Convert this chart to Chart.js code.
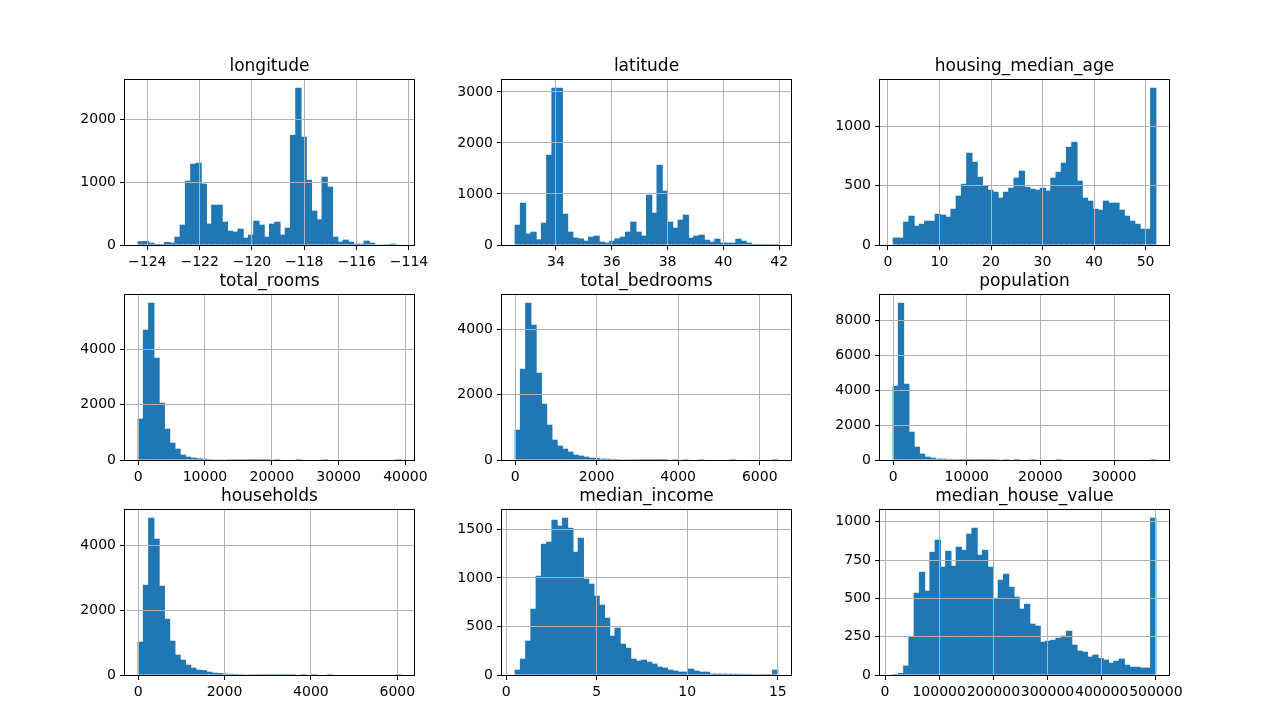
<!DOCTYPE html>
<html>
<head>
<meta charset="utf-8">
<title>housing histograms</title>
<script src="https://cdn.jsdelivr.net/npm/chart.js@4"></script>
<style>
  body { margin: 0; background: #fff; }
  #fig { position: relative; width: 1284px; height: 719px; overflow: hidden; }
  #fig canvas { position: absolute; }
</style>
</head>
<body>
<div id="fig"></div>
<script>
// counts per bin (50 equal bins between the column min and max)
const longitude = [60, 65, 37, 16, 16, 48, 37, 132, 323, 1021, 1291, 1307, 974, 339, 640, 640, 370, 228, 212, 259, 116, 164, 386, 323, 132, 339, 370, 164, 275, 1751, 2497, 1720, 1037, 545, 407, 1085, 926, 132, 53, 85, 53, 21, 21, 69, 37, 5, 5, 2, 21, 5];
const latitude = [398, 828, 222, 261, 111, 437, 1768, 3079, 3079, 613, 261, 143, 130, 85, 163, 183, 65, 46, 85, 130, 163, 261, 457, 261, 183, 985, 633, 1572, 1063, 457, 339, 496, 594, 143, 183, 202, 104, 65, 124, 46, 46, 46, 124, 85, 46, 20, 20, 20, 20, 20];
const housingMedianAge = [62, 62, 196, 246, 162, 179, 204, 204, 263, 255, 238, 305, 415, 515, 776, 700, 574, 499, 465, 448, 398, 448, 482, 566, 625, 490, 473, 465, 482, 457, 566, 616, 692, 826, 868, 541, 398, 373, 305, 297, 373, 356, 356, 297, 246, 204, 179, 137, 137, 1322];
const totalRooms = [1490, 4697, 5670, 3688, 2066, 1129, 625, 408, 192, 120, 84, 60, 48, 36, 24, 24, 12, 4, 3, 2, 2, 1, 1, 1, 1, 0, 1, 0, 0, 0, 1, 0, 0, 0, 0, 1, 0, 0, 0, 0, 0, 0, 0, 0, 0, 0, 0, 0, 0, 1];
const totalBedrooms = [929, 2796, 4816, 4143, 2673, 1724, 1082, 622, 439, 347, 255, 163, 133, 102, 71, 61, 41, 41, 31, 31, 20, 4, 3, 2, 2, 1, 1, 1, 1, 0, 1, 0, 1, 0, 0, 1, 0, 0, 0, 0, 0, 1, 0, 0, 0, 0, 0, 0, 0, 1];
const population = [4248, 8990, 4362, 1619, 762, 362, 190, 133, 76, 76, 57, 6, 4, 3, 2, 2, 1, 1, 1, 1, 0, 1, 0, 1, 0, 0, 1, 0, 0, 0, 0, 1, 0, 0, 0, 0, 0, 0, 0, 0, 0, 0, 0, 0, 0, 0, 0, 0, 0, 1];
const households = [1026, 2779, 4841, 4195, 2749, 1733, 1056, 626, 472, 318, 226, 164, 150, 103, 72, 62, 41, 36, 31, 26, 21, 5, 4, 3, 2, 2, 1, 1, 1, 1, 0, 1, 0, 1, 0, 0, 1, 0, 0, 0, 0, 0, 0, 0, 0, 0, 0, 0, 0, 1];
const medianIncome = [55, 168, 354, 683, 1023, 1353, 1373, 1600, 1538, 1620, 1517, 1270, 1414, 992, 941, 817, 724, 590, 405, 487, 323, 281, 168, 148, 158, 137, 117, 86, 76, 55, 45, 34, 35, 65, 45, 34, 34, 14, 14, 14, 13, 12, 12, 11, 11, 2, 1, 1, 1, 55];
const medianHouseValue = [7, 13, 61, 254, 537, 674, 550, 804, 883, 707, 811, 713, 837, 817, 922, 961, 785, 817, 707, 504, 622, 661, 576, 511, 433, 465, 335, 322, 217, 224, 230, 243, 257, 289, 198, 159, 152, 120, 133, 111, 100, 80, 93, 107, 67, 54, 54, 48, 48, 1026];

// min / max of each column (histogram range)
const longitudeRange = [-124.35, -114.31];
const latitudeRange = [32.54, 41.95];
const ageRange = [1, 52];
const roomsRange = [2, 39320];
const bedroomsRange = [1, 6445];
const populationRange = [3, 35682];
const householdsRange = [1, 6082];
const incomeRange = [0.4999, 15.0001];
const houseValueRange = [14999, 500001];

// tick labels
const longitudeXTicks = [-124, -122, -120, -118, -116, -114];
const latitudeXTicks = [34, 36, 38, 40, 42];
const ageXTicks = [0, 10, 20, 30, 40, 50];
const roomsXTicks = [0, 10000, 20000, 30000, 40000];
const bedroomsXTicks = [0, 2000, 4000, 6000];
const populationXTicks = [0, 10000, 20000, 30000];
const householdsXTicks = [0, 2000, 4000, 6000];
const incomeXTicks = [0, 5, 10, 15];
const houseValueXTicks = [0, 100000, 200000, 300000, 400000, 500000];

const longitudeYTicks = [0, 1000, 2000];
const latitudeYTicks = [0, 1000, 2000, 3000];
const ageYTicks = [0, 500, 1000];
const roomsYTicks = [0, 2000, 4000];
const bedroomsYTicks = [0, 2000, 4000];
const populationYTicks = [0, 2000, 4000, 6000, 8000];
const householdsYTicks = [0, 2000, 4000];
const incomeYTicks = [0, 500, 1000, 1500];
const houseValueYTicks = [0, 250, 500, 750, 1000];

const titles = ['longitude', 'latitude', 'housing_median_age', 'total_rooms', 'total_bedrooms',
                'population', 'households', 'median_income', 'median_house_value'];

const panels = [
  [longitude, longitudeRange, longitudeXTicks, longitudeYTicks],
  [latitude, latitudeRange, latitudeXTicks, latitudeYTicks],
  [housingMedianAge, ageRange, ageXTicks, ageYTicks],
  [totalRooms, roomsRange, roomsXTicks, roomsYTicks],
  [totalBedrooms, bedroomsRange, bedroomsXTicks, bedroomsYTicks],
  [population, populationRange, populationXTicks, populationYTicks],
  [households, householdsRange, householdsXTicks, householdsYTicks],
  [medianIncome, incomeRange, incomeXTicks, incomeYTicks],
  [medianHouseValue, houseValueRange, houseValueXTicks, houseValueYTicks]
];

// layout of the axes boxes in the figure
const colLeft = [125, 502, 880];
const rowTop = [80, 295, 510];
const axW = 289, axH = 165;
const yAxisW = 70, topSpace = 30, xAxisH = 30, padR = 40;

Chart.defaults.font.family = '"DejaVu Sans", sans-serif';
Chart.defaults.font.size = 14;
Chart.defaults.color = '#000';

// black frame round the axes + title above it
const panelDecor = {
  id: 'panelDecor',
  afterDraw(chart, args, opts) {
    const {ctx, chartArea: a} = chart;
    ctx.save();
    ctx.strokeStyle = '#000';
    ctx.lineWidth = 1;
    ctx.strokeRect(a.left - 0.5, a.top - 0.5, a.right - a.left + 1, a.bottom - a.top + 1);
    ctx.fillStyle = '#000';
    ctx.font = '17px "DejaVu Sans", sans-serif';
    ctx.textAlign = 'center';
    ctx.textBaseline = 'alphabetic';
    ctx.fillText(opts.text, (a.left + a.right) / 2, a.top - 9);
    ctx.restore();
  }
};

const fmt = v => (v < 0 ? '\u2212' + Math.abs(v) : String(v));

const fig = document.getElementById('fig');

panels.forEach(([counts, range, xTicks, yTicks], i) => {
  const col = i % 3, row = Math.floor(i / 3);
  const canvas = document.createElement('canvas');
  const w = yAxisW + axW + padR, h = topSpace + axH + xAxisH;
  canvas.width = w;
  canvas.height = h;
  canvas.style.left = (colLeft[col] - yAxisW) + 'px';
  canvas.style.top = (rowTop[row] - topSpace) + 'px';
  canvas.style.width = w + 'px';
  canvas.style.height = h + 'px';
  fig.appendChild(canvas);

  const [lo, hi] = range;
  const bw = (hi - lo) / counts.length;
  const span = hi - lo;
  const data = counts.map((c, k) => ({x: lo + (k + 0.5) * bw, y: c}));
  const yMax = Math.max(...counts) * 1.05;

  new Chart(canvas, {
    type: 'bar',
    data: {
      datasets: [{
        data: data,
        backgroundColor: '#1f77b4',
        borderWidth: 0,
        inflateAmount: 0,
        barPercentage: 1.2,   // small overlap so no light seams between bins
        categoryPercentage: 1
      }]
    },
    options: {
      responsive: false,
      animation: false,
      layout: {padding: {left: 0, right: padR, top: topSpace, bottom: 0}},
      plugins: {
        legend: {display: false},
        tooltip: {enabled: false},
        panelDecor: {text: titles[i]}
      },
      scales: {
        x: {
          type: 'linear',
          min: lo - 0.05 * span,
          max: hi + 0.05 * span,
          offset: false,
          grid: {offset: false, color: '#b0b0b0', lineWidth: 1, tickColor: '#000', tickLength: 5, z: 1},
          border: {display: false},
          ticks: {autoSkip: false, maxRotation: 0, minRotation: 0, padding: 4, callback: fmt},
          afterBuildTicks: s => { s.ticks = xTicks.map(v => ({value: v})); },
          afterFit: s => { s.height = xAxisH; s.paddingLeft = 0; s.paddingRight = 0; }
        },
        y: {
          type: 'linear',
          min: 0,
          max: yMax,
          grid: {color: '#b0b0b0', lineWidth: 1, tickColor: '#000', tickLength: 5, z: 1},
          border: {display: false},
          ticks: {padding: 4, callback: fmt},
          afterBuildTicks: s => { s.ticks = yTicks.map(v => ({value: v})); },
          afterFit: s => { s.width = yAxisW; s.paddingTop = 0; s.paddingBottom = 0; }
        }
      }
    },
    plugins: [panelDecor]
  });
});
</script>
</body>
</html>
